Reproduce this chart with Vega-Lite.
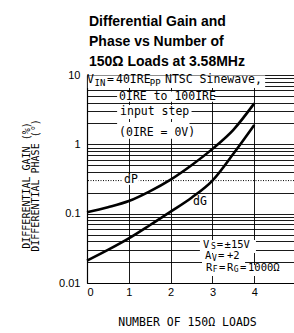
{
  "$schema": "https://vega.github.io/schema/vega-lite/v6.json",
  "width": 207,
  "height": 208,
  "autosize": {"type": "none"},
  "padding": {"left": 87, "top": 75, "right": 0, "bottom": 50},
  "background": "white",
  "config": {"view": {"stroke": null}},
  "title": {
    "text": ["Differential Gain and", "Phase vs Number of", "150Ω Loads at 3.58MHz"],
    "anchor": "start",
    "frame": "group",
    "font": "Liberation Sans",
    "fontSize": 14,
    "fontWeight": "bold",
    "color": "black",
    "lineHeight": 20,
    "offset": -14,
    "dx": 2,
    "baseline": "bottom"
  },
  "datasets": {
    "curves": [
      {"x": 0, "y": 0.105, "s": "dP"},
      {"x": 0.5, "y": 0.124, "s": "dP"},
      {"x": 1, "y": 0.152, "s": "dP"},
      {"x": 1.5, "y": 0.21, "s": "dP"},
      {"x": 2, "y": 0.31, "s": "dP"},
      {"x": 2.5, "y": 0.5, "s": "dP"},
      {"x": 3, "y": 0.86, "s": "dP"},
      {"x": 3.5, "y": 1.62, "s": "dP"},
      {"x": 4, "y": 3.9, "s": "dP"},
      {"x": 0, "y": 0.021, "s": "dG"},
      {"x": 0.5, "y": 0.03, "s": "dG"},
      {"x": 1, "y": 0.044, "s": "dG"},
      {"x": 1.5, "y": 0.068, "s": "dG"},
      {"x": 2, "y": 0.107, "s": "dG"},
      {"x": 2.5, "y": 0.17, "s": "dG"},
      {"x": 3, "y": 0.3, "s": "dG"},
      {"x": 3.5, "y": 0.73, "s": "dG"},
      {"x": 4, "y": 1.9, "s": "dG"}
    ],
    "dotted": [{"y": 0.3}],
    "boxes": [
      {"x": 0.02, "x2": 4.26, "y": 9.8, "y2": 6.5},
      {"x": 0.72, "x2": 3.04, "y": 5.8, "y2": 4.1},
      {"x": 0.72, "x2": 2.5, "y": 3.7, "y2": 2.32},
      {"x": 0.72, "x2": 2.45, "y": 2.1, "y2": 1.2},
      {"x": 0.84, "x2": 1.24, "y": 0.374, "y2": 0.26},
      {"x": 2.49, "x2": 2.89, "y": 0.186, "y2": 0.125},
      {"x": 2.7, "x2": 4.04, "y": 0.0417, "y2": 0.0271},
      {"x": 2.75, "x2": 3.78, "y": 0.0262, "y2": 0.0182},
      {"x": 2.78, "x2": 4.95, "y": 0.0182, "y2": 0.0126}
    ],
    "labels": [
      {"x": 0.0, "y": 7.69, "t": "V"},
      {"x": 0.478, "y": 7.69, "t": "="},
      {"x": 0.693, "y": 7.69, "t": "40IRE"},
      {"x": 1.865, "y": 7.69, "t": "NTSC Sinewave,"},
      {"x": 0.766, "y": 4.37, "t": "0IRE to 100IRE"},
      {"x": 0.79, "y": 2.66, "t": "input step"},
      {"x": 0.766, "y": 1.32, "t": "(0IRE = 0V)"},
      {"x": 0.885, "y": 0.277, "t": "dP"},
      {"x": 2.536, "y": 0.1335, "t": "dG"}
    ],
    "subs": [
      {"x": 0.179, "y": 7.69, "t": "IN"},
      {"x": 1.5, "y": 7.69, "t": "PP"}
    ],
    "notes": [
      {"x": 2.774, "y": 0.032, "t": "V"},
      {"x": 3.1, "y": 0.032, "t": "="},
      {"x": 3.29, "y": 0.032, "t": "±15V"},
      {"x": 2.822, "y": 0.02184, "t": "A"},
      {"x": 3.133, "y": 0.02184, "t": "="},
      {"x": 3.348, "y": 0.02184, "t": "+2"},
      {"x": 2.846, "y": 0.0149, "t": "R"},
      {"x": 3.156, "y": 0.0149, "t": "="},
      {"x": 3.348, "y": 0.0149, "t": "R"},
      {"x": 3.659, "y": 0.0149, "t": "="},
      {"x": 3.85, "y": 0.0149, "t": "1000Ω"}
    ],
    "notesubs": [
      {"x": 2.965, "y": 0.032, "t": "S"},
      {"x": 2.99, "y": 0.02184, "t": "V"},
      {"x": 3.01, "y": 0.0149, "t": "F"},
      {"x": 3.51, "y": 0.0149, "t": "G"}
    ]
  },
  "layer": [
    {
      "data": {"name": "dotted"},
      "mark": {"type": "rule", "strokeDash": [1, 1.5], "color": "black", "strokeWidth": 1},
      "encoding": {
        "y": {"field": "y", "type": "quantitative", "scale": {"type": "log", "domain": [0.01, 10], "nice": false}}
      }
    },
    {
      "data": {"name": "boxes"},
      "mark": {"type": "rect", "fill": "white"},
      "encoding": {
        "x": {"field": "x", "type": "quantitative", "scale": {"domain": [0, 4.95], "nice": false}},
        "x2": {"field": "x2"},
        "y": {"field": "y", "type": "quantitative", "scale": {"type": "log", "domain": [0.01, 10], "nice": false}},
        "y2": {"field": "y2"}
      }
    },
    {
      "data": {"name": "curves"},
      "mark": {"type": "line", "color": "black", "strokeWidth": 2.6, "interpolate": "monotone"},
      "encoding": {
        "x": {
          "field": "x", "type": "quantitative",
          "scale": {"domain": [0, 4.95], "nice": false},
          "axis": {
            "values": [0, 0.5, 1, 1.5, 2, 2.5, 3, 3.5, 4, 4.5],
            "labelExpr": "datum.value % 1 === 0 ? datum.label : ''",
            "grid": true, "gridColor": "black", "gridOpacity": 1, "gridWidth": 0.9,
            "ticks": false, "domain": true, "domainColor": "black", "domainWidth": 1.2,
            "labelFont": "Liberation Sans", "labelFontSize": 11, "labelColor": "black", "labelPadding": 3,
            "title": "NUMBER OF 150Ω LOADS",
            "titleFont": "DejaVu Sans Mono", "titleFontSize": 11.5, "titleFontWeight": "normal", "titleColor": "black",
            "titleX": 100, "titleY": 33, "titleBaseline": "top", "titleAlign": "center"
          }
        },
        "y": {
          "field": "y", "type": "quantitative",
          "scale": {"type": "log", "domain": [0.01, 10], "nice": false},
          "axis": {
            "values": [0.01, 0.02, 0.03, 0.04, 0.05, 0.06, 0.07, 0.08, 0.09, 0.1, 0.2, 0.4, 0.5, 0.6, 0.7, 0.8, 0.9, 1, 2, 3, 4, 5, 6, 7, 8, 9, 10],
            "format": "~g",
            "labelExpr": "indexof([0.01, 0.1, 1, 10], datum.value) >= 0 ? datum.label : ''",
            "grid": true, "gridColor": "black", "gridOpacity": 1, "gridWidth": 0.9,
            "ticks": false, "domain": true, "domainColor": "black", "domainWidth": 1.2,
            "labelFont": "Liberation Sans", "labelFontSize": 11, "labelColor": "black", "labelPadding": 7,
            "title": ["DIFFERENTIAL GAIN (%)", "DIFFERENTIAL PHASE (°)"],
            "titleFont": "DejaVu Sans Mono", "titleFontSize": 10, "titleFontWeight": "normal", "titleColor": "black",
            "titleLineHeight": 9.5, "titleAngle": -90, "titleX": -66, "titleY": 110, "titleBaseline": "top", "titleAlign": "center"
          }
        },
        "detail": {"field": "s"}
      }
    },
    {
      "data": {"name": "labels"},
      "mark": {"type": "text", "font": "DejaVu Sans Mono", "fontSize": 11.5, "align": "left", "baseline": "alphabetic", "color": "black"},
      "encoding": {
        "x": {"field": "x", "type": "quantitative"},
        "y": {"field": "y", "type": "quantitative", "scale": {"type": "log"}},
        "text": {"field": "t"}
      }
    },
    {
      "data": {"name": "subs"},
      "mark": {"type": "text", "font": "DejaVu Sans Mono", "fontSize": 9, "align": "left", "baseline": "alphabetic", "dy": 3, "color": "black"},
      "encoding": {
        "x": {"field": "x", "type": "quantitative"},
        "y": {"field": "y", "type": "quantitative", "scale": {"type": "log"}},
        "text": {"field": "t"}
      }
    },
    {
      "data": {"name": "notes"},
      "mark": {"type": "text", "font": "DejaVu Sans Mono", "fontSize": 10.5, "align": "left", "baseline": "alphabetic", "color": "black"},
      "encoding": {
        "x": {"field": "x", "type": "quantitative"},
        "y": {"field": "y", "type": "quantitative", "scale": {"type": "log"}},
        "text": {"field": "t"}
      }
    },
    {
      "data": {"name": "notesubs"},
      "mark": {"type": "text", "font": "DejaVu Sans Mono", "fontSize": 8, "align": "left", "baseline": "alphabetic", "dy": 1.5, "color": "black"},
      "encoding": {
        "x": {"field": "x", "type": "quantitative"},
        "y": {"field": "y", "type": "quantitative", "scale": {"type": "log"}},
        "text": {"field": "t"}
      }
    }
  ]
}
